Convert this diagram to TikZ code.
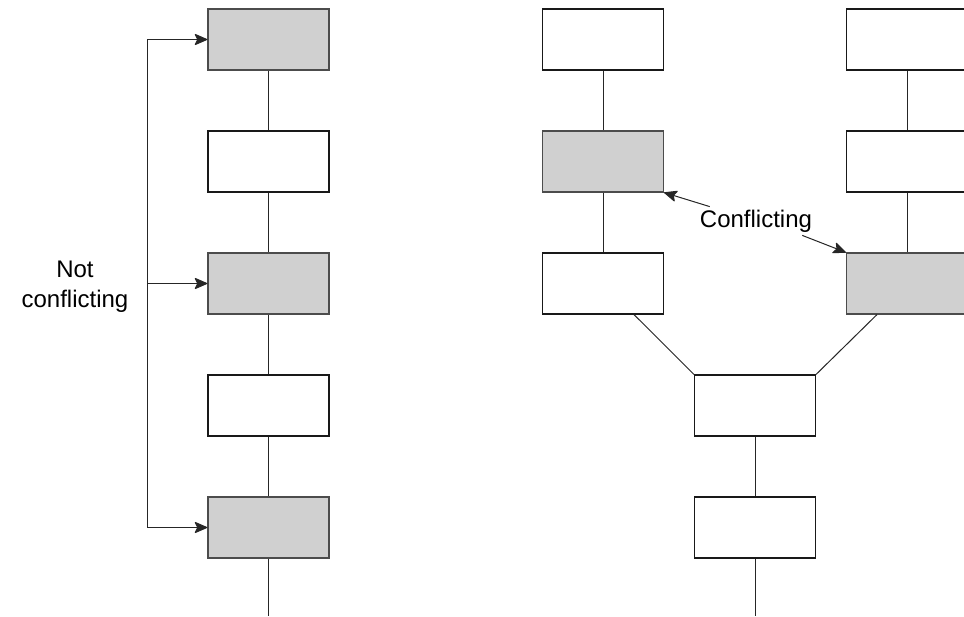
\documentclass[tikz,border=0pt]{standalone}
\usepackage{fontspec}
\setmainfont{Liberation Sans}
\usetikzlibrary{arrows.meta}
\definecolor{boxgray}{RGB}{208,208,208}
\begin{document}
\begin{tikzpicture}[x=1pt,y=-1pt,
  plainbox/.style={draw=black!90,line width=1.1pt,fill=white,rectangle,minimum width=121pt,minimum height=61pt,inner sep=0pt},
  graybox/.style={plainbox,fill=boxgray,draw=black!70},
  link/.style={draw=black!85,line width=1pt},
  arr/.style={link,-{Stealth[length=14pt,width=12pt,inset=3pt,round]}},
  lbl/.style={font=\fontsize{24}{30}\selectfont,align=center,inner sep=3pt}
]
\clip (0,0) rectangle (964,616);
\fill[white] (0,0) rectangle (964,616);
% left column
\node[graybox]  (L1) at (268.5,39.5) {};
\node[plainbox] (L2) at (268.5,161.5) {};
\node[graybox]  (L3) at (268.5,283.5) {};
\node[plainbox] (L4) at (268.5,405.5) {};
\node[graybox]  (L5) at (268.5,527.5) {};
\coordinate (Lend) at (268.5,616);
\draw[link] (L1) -- (L2) (L2) -- (L3) (L3) -- (L4) (L4) -- (L5) (L5) -- (Lend);
% bracket
\coordinate (brx) at (147,0);
\draw[arr] (brx |- L5.west) -- (brx |- L1.west) -- (L1.west);
\draw[arr] (brx |- L3.west) -- (L3.west);
\draw[arr] (brx |- L5.west) -- (L5.west);
\node[lbl] (nc) at (75,287) {Not\\conflicting};
% middle column
\node[plainbox] (M1) at (603,39.5) {};
\node[graybox]  (M2) at (603,161.5) {};
\node[plainbox] (M3) at (603,283.5) {};
\draw[link] (M1) -- (M2) (M2) -- (M3);
% right column
\node[plainbox] (R1) at (907,39.5) {};
\node[plainbox] (R2) at (907,161.5) {};
\node[graybox]  (R3) at (907,283.5) {};
\draw[link] (R1) -- (R2) (R2) -- (R3);
% merged
\node[plainbox] (B1) at (755,405.5) {};
\node[plainbox] (B2) at (755,527.5) {};
\coordinate (Bend) at (755,616);
\draw[link] (B1) -- (B2) (B2) -- (Bend);
\draw[link] ([xshift=31pt]M3.south) -- (B1.north west);
\draw[link] ([xshift=-30pt]R3.south) -- (B1.north east);
% conflicting
\node[lbl] (conf) at (756,221) {Conflicting};
\draw[arr] ([xshift=13pt]conf.north west) -- (M2.south east);
\draw[arr] ([xshift=-13pt]conf.south east) -- (R3.north west);
\end{tikzpicture}
\end{document}
